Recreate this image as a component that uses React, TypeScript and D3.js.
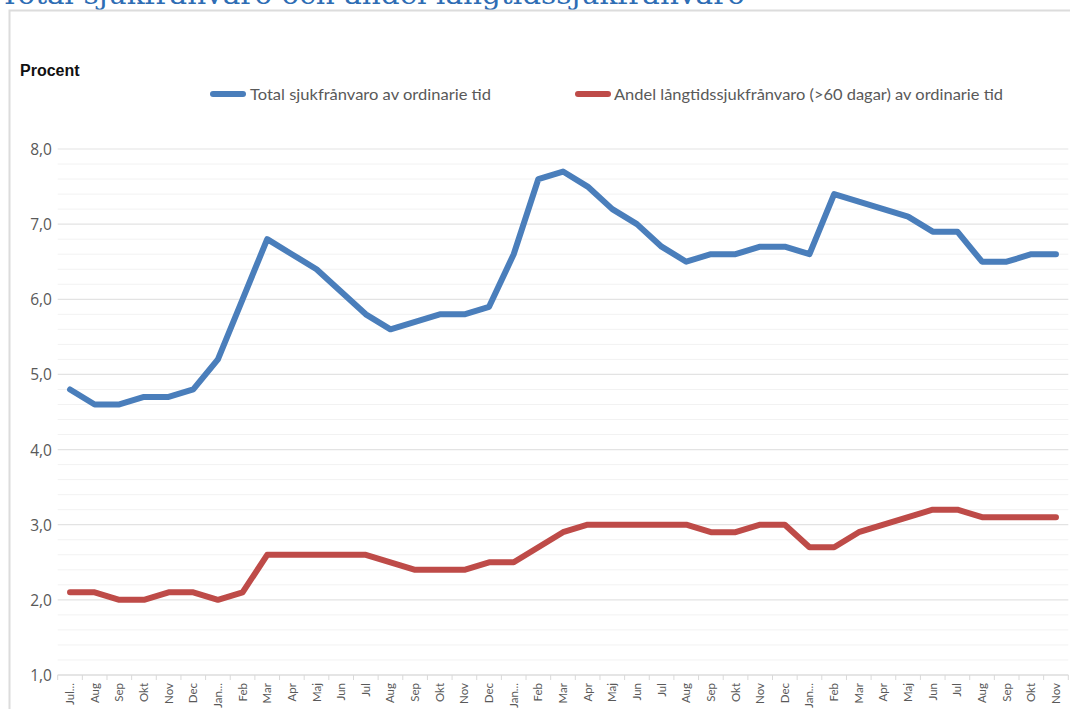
import React from 'react';
import { scaleBand, scaleLinear, line, range } from 'd3';

const months = [
  'Jul...', 'Aug', 'Sep', 'Okt', 'Nov', 'Dec',
  'Jan...', 'Feb', 'Mar', 'Apr', 'Maj', 'Jun', 'Jul', 'Aug', 'Sep', 'Okt', 'Nov', 'Dec',
  'Jan...', 'Feb', 'Mar', 'Apr', 'Maj', 'Jun', 'Jul', 'Aug', 'Sep', 'Okt', 'Nov', 'Dec',
  'Jan...', 'Feb', 'Mar', 'Apr', 'Maj', 'Jun', 'Jul', 'Aug', 'Sep', 'Okt', 'Nov',
];

const totalSick = [
  4.8, 4.6, 4.6, 4.7, 4.7, 4.8,
  5.2, 6.0, 6.8, 6.6, 6.4, 6.1, 5.8, 5.6, 5.7, 5.8, 5.8, 5.9,
  6.6, 7.6, 7.7, 7.5, 7.2, 7.0, 6.7, 6.5, 6.6, 6.6, 6.7, 6.7,
  6.6, 7.4, 7.3, 7.2, 7.1, 6.9, 6.9, 6.5, 6.5, 6.6, 6.6,
];

const longTermSick = [
  2.1, 2.1, 2.0, 2.0, 2.1, 2.1,
  2.0, 2.1, 2.6, 2.6, 2.6, 2.6, 2.6, 2.5, 2.4, 2.4, 2.4, 2.5,
  2.5, 2.7, 2.9, 3.0, 3.0, 3.0, 3.0, 3.0, 2.9, 2.9, 3.0, 3.0,
  2.7, 2.7, 2.9, 3.0, 3.1, 3.2, 3.2, 3.1, 3.1, 3.1, 3.1,
];

const yTicks = [1, 2, 3, 4, 5, 6, 7, 8];

const seriesNames = [
  'Total sjukfrånvaro av ordinarie tid',
  'Andel långtidssjukfrånvaro (>60 dagar) av ordinarie tid',
];

const title = 'Total sjukfrånvaro och andel långtidssjukfrånvaro';

const BLUE = '#4A7EBB';
const RED = '#BE4B48';

function App() {
  const idx = months.map((_, i) => i);
  const x = scaleBand<number>().domain(idx).range([57.7, 1068.3]).padding(0);
  const y = scaleLinear().domain([1, 8]).range([675, 149]);
  const cx = (i: number) => (x(i) as number) + x.bandwidth() / 2;

  const mkLine = line<number>()
    .x((_, i) => cx(i))
    .y((d) => y(d));

  const minor = range(1, 8.001, 0.2).filter((v) => Math.abs(v - Math.round(v)) > 0.01);

  return (
    <svg
      width={1070}
      height={709}
      style={{ position: 'absolute', left: 0, top: 0, background: '#fff' }}
    >
      <text
        x={0}
        y={4}
        fontFamily="'DejaVu Serif', serif"
        fontSize={27}
        fill="#2E6DB4"
        textLength={745}
        lengthAdjust="spacingAndGlyphs"
      >
        {title}
      </text>
      <rect x={9.5} y={10.5} width={1080} height={720} fill="none" stroke="#dcdcdc" strokeWidth={2} />

      <text x={20} y={76} fontFamily="'Liberation Sans', Arial" fontWeight="bold" fontSize={16} fill="#111">
        Procent
      </text>

      {/* legend */}
      <line x1={213} x2={243} y1={94} y2={94} stroke={BLUE} strokeWidth={6} strokeLinecap="round" />
      <text x={250} y={99.5} fontFamily="Lato, 'Open Sans'" fontSize={15} fill="#595959" textLength={241} lengthAdjust="spacingAndGlyphs">
        {seriesNames[0]}
      </text>
      <line x1={578} x2={608} y1={94} y2={94} stroke={RED} strokeWidth={6} strokeLinecap="round" />
      <text x={614} y={99.5} fontFamily="Lato, 'Open Sans'" fontSize={15} fill="#595959" textLength={389} lengthAdjust="spacingAndGlyphs">
        {seriesNames[1]}
      </text>

      {/* grid */}
      {minor.map((v) => (
        <line key={'m' + v} x1={57.7} x2={1068.3} y1={y(v)} y2={y(v)} stroke="#f2f2f2" strokeWidth={1} />
      ))}
      {yTicks.map((v) => (
        <line key={'g' + v} x1={57.7} x2={1068.3} y1={y(v)} y2={y(v)} stroke="#e3e3e3" strokeWidth={1.2} />
      ))}
      {yTicks.map((v) => (
        <text
          key={'t' + v}
          x={52}
          y={y(v) + 6}
          textAnchor="end"
          fontFamily="'Open Sans', 'Noto Sans'"
          fontSize={15.5}
          fill="#595959"
        >
          {v.toFixed(1).replace('.', ',')}
        </text>
      ))}

      {/* x axis */}
      <line x1={57.7} x2={1068.3} y1={y(1)} y2={y(1)} stroke="#d9d9d9" strokeWidth={1.2} />
      {idx.concat([months.length]).map((i) => {
        const xx = i < months.length ? (x(i) as number) : 1068.3;
        return <line key={'k' + i} x1={xx} x2={xx} y1={y(1)} y2={y(1) + 5} stroke="#d9d9d9" strokeWidth={1} />;
      })}
      {months.map((m, i) => (
        <text
          key={'x' + i}
          transform={`translate(${cx(i) + 4},683) rotate(-90)`}
          textAnchor="end"
          fontFamily="Lato, 'Open Sans'"
          fontSize={11.5}
          fill="#595959"
        >
          {m}
        </text>
      ))}

      <path d={mkLine(longTermSick) || ''} fill="none" stroke={RED} strokeWidth={6} strokeLinejoin="round" strokeLinecap="round" />
      <path d={mkLine(totalSick) || ''} fill="none" stroke={BLUE} strokeWidth={6} strokeLinejoin="round" strokeLinecap="round" />
    </svg>
  );
}

export default App;
